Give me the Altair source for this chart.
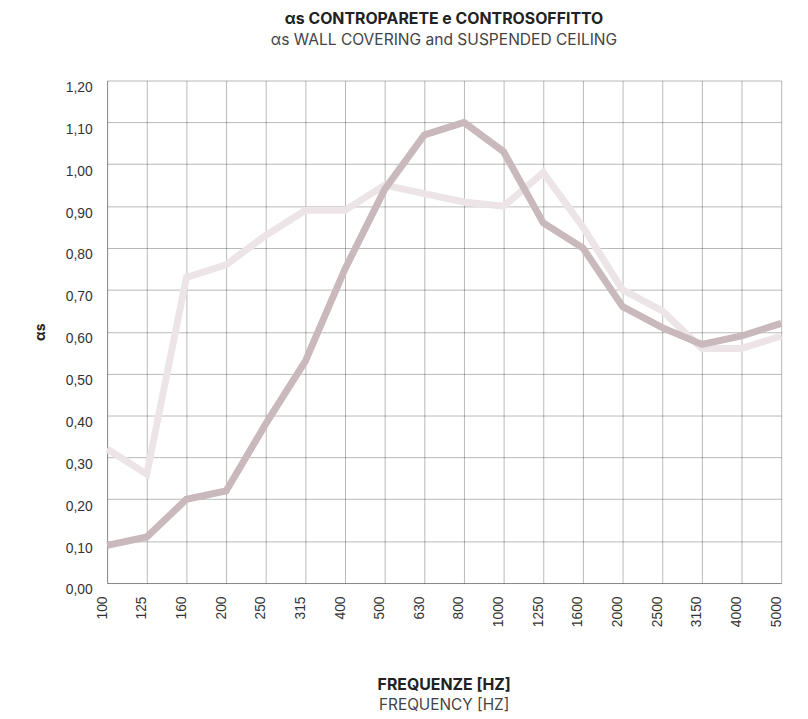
import altair as alt
import pandas as pd

freqs = ["100", "125", "160", "200", "250", "315", "400", "500", "630", "800",
         "1000", "1250", "1600", "2000", "2500", "3150", "4000", "5000"]
dark_vals = [0.09, 0.11, 0.20, 0.22, 0.38, 0.53, 0.75, 0.94, 1.07, 1.10,
             1.03, 0.86, 0.80, 0.66, 0.61, 0.57, 0.59, 0.62]
light_vals = [0.32, 0.26, 0.73, 0.76, 0.83, 0.89, 0.89, 0.95, 0.93, 0.91,
              0.90, 0.98, 0.85, 0.70, 0.65, 0.56, 0.56, 0.59]
y_ticks = [0.0, 0.1, 0.2, 0.3, 0.4, 0.5, 0.6, 0.7, 0.8, 0.9, 1.0, 1.1, 1.2]

df_dark = pd.DataFrame({"freq": freqs, "v": dark_vals})
df_light = pd.DataFrame({"freq": freqs, "v": light_vals})

x_enc = alt.X("freq:N", sort=freqs, scale=alt.Scale(type="point", padding=0),
              axis=alt.Axis(title=None, labelAngle=-90, labelPadding=13, labelOffset=-5,
                            labelFontSize=14, labelFont="Liberation Sans",
                            labelColor="#333333", ticks=False, grid=True))
y_enc = alt.Y("v:Q", scale=alt.Scale(domain=[0, 1.2], nice=False, zero=True),
              axis=alt.Axis(title="αs", values=y_ticks, ticks=False, grid=True,
                            labelExpr="replace(format(datum.value, '.2f'), '.', ',')",
                            labelFontSize=14, labelFont="Liberation Sans",
                            labelColor="#333333", labelPadding=15, labelOffset=7,
                            titleFont="Inter", titleFontSize=14, titleFontWeight="bold",
                            titleColor="#222222", titlePadding=18))

light_line = alt.Chart(df_light).mark_line(color="#ece4e6", strokeWidth=7).encode(x=x_enc, y=y_enc)
dark_line = alt.Chart(df_dark).mark_line(color="#c9b8bc", strokeWidth=7).encode(x=x_enc, y=y_enc)

inner = alt.layer(light_line, dark_line).properties(
    width=680, height=507,
    title=alt.TitleParams(text="FREQUENZE [HZ]", subtitle="FREQUENCY [HZ]",
                          orient="bottom", anchor="middle", frame="group",
                          font="Inter", fontSize=16, fontWeight="bold", color="#222222",
                          subtitleFont="Inter", subtitleFontSize=15.5, subtitleColor="#444444",
                          subtitlePadding=5, offset=51)
)

chart = alt.vconcat(inner).properties(
    title=alt.TitleParams(text="αs CONTROPARETE e CONTROSOFFITTO",
                          subtitle="αs WALL COVERING and SUSPENDED CEILING",
                          anchor="middle", font="Inter", fontSize=16, fontWeight="bold",
                          color="#222222", subtitleFont="Inter", subtitleFontSize=15.7,
                          subtitleColor="#444444", subtitlePadding=6, offset=33, dx=30),
    padding={"left": 25, "top": 0, "right": 5, "bottom": 0}
).configure_axis(
    zindex=1, gridColor="#000000", gridOpacity=0.28, domainColor="#000000",
    domainOpacity=0.28
).configure_view(stroke=None)

chart.save("out.html", embed_options={"renderer": "svg", "actions": False})
